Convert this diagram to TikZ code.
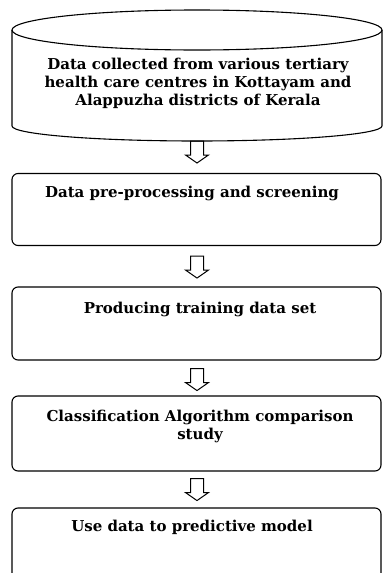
\documentclass[tikz,border=0pt]{standalone}
\usepackage{fontspec}
\setmainfont{DejaVu Serif}
\usetikzlibrary{calc}
\tikzset{
  box/.style={draw, line width=1.1pt, rounded corners=6pt, minimum width=369pt, inner sep=0pt},
  lbl/.style={align=center, font=\fontsize{15}{18}\selectfont\bfseries, inner sep=0pt, anchor=base},
  blockarr/.pic={\draw[line width=1pt, line join=miter] (-6.5,0) -- (6.5,0) -- (6.5,14) -- (11.5,14) -- (0,22) -- (-11.5,14) -- (-6.5,14) -- cycle;}
}
\begin{document}
\begin{tikzpicture}[x=1pt,y=-1pt]
\useasboundingbox (0,0) rectangle (383,573);
% cylinder
\draw[line width=1.1pt] (197,30) ellipse [x radius=185, y radius=20];
\draw[line width=1.1pt] (12,30) -- (12,126) arc [start angle=180, end angle=360, x radius=185, y radius=-15] -- (382,30);
\coordinate (cyl) at (197,141);
\node[lbl] (t1) at (198,105) {Data collected from various tertiary\\health care centres in Kottayam and\\Alappuzha districts of Kerala};
% boxes
\node[box, minimum height=72pt] (b2) at (196.5,209.5) {};
\node[lbl] (t2) at (192,197) {Data pre-processing and screening};
\node[box, minimum height=73pt] (b3) at (196.5,323.5) {};
\node[lbl] (t3) at (200,313) {Producing training data set};
\node[box, minimum height=75pt] (b4) at (196.5,433.5) {};
\node[lbl] (t4) at (200,439) {Classification Algorithm comparison\\study};
\node[box, minimum height=100pt] (b5) at (196.5,558) {};
\node[lbl] (t5) at (192,531) {Use data to predictive model};
% arrows
\path (cyl) pic {blockarr};
\path ($(b2.south)+(0.5,10)$) pic {blockarr};
\path ($(b3.south)+(0.5,8)$) pic {blockarr};
\path ($(b4.south)+(0.5,7)$) pic {blockarr};
\end{tikzpicture}
\end{document}
